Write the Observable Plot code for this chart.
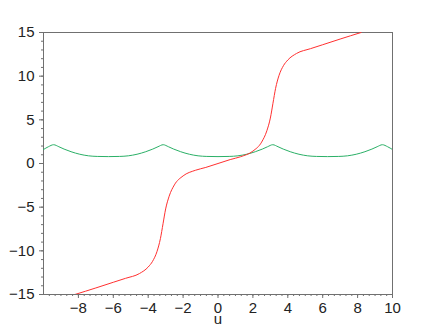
<!DOCTYPE html>
<html>
<head>
<meta charset="utf-8">
<script src="https://cdn.jsdelivr.net/npm/d3@7"></script>
<script src="https://cdn.jsdelivr.net/npm/@observablehq/plot@0.6"></script>
<style>
  html, body { margin: 0; padding: 0; background: #fff; }
  #chart { width: 435px; height: 327px; }
</style>
</head>
<body>
<div id="chart"></div>
<script>
// Red curve
const redU = [-8.2, -7.0, -6.0, -5.3, -4.5, -4.0, -3.75, -3.5, -3.3, -3.15, -3.0, -2.8, -2.5, -2.0, -1.3, -0.7, 0,
              0.7, 1.3, 2.0, 2.5, 2.8, 3.0, 3.15, 3.3, 3.5, 3.75, 4.0, 4.5, 5.3, 6.0, 7.0, 8.2];
const redY = [-15.0, -14.25, -13.6, -13.15, -12.6, -11.85, -11.2, -10.1, -8.6, -6.9, -5.2, -3.75, -2.45, -1.42, -0.78, -0.45, 0,
              0.45, 0.78, 1.42, 2.45, 3.75, 5.2, 6.9, 8.6, 10.1, 11.2, 11.85, 12.6, 13.15, 13.6, 14.25, 15.0];

// Green curve
const greenU = [-10.0, -9.72, -9.42, -9.12, -8.82, -8.42, -7.92, -7.42, -6.92, -6.28, -5.64, -5.14, -4.64, -4.14, -3.74, -3.44, -3.14,
                -2.84, -2.54, -2.14, -1.64, -1.14, -0.64, 0, 0.64, 1.14, 1.64, 2.14, 2.54, 2.84, 3.14,
                3.44, 3.74, 4.14, 4.64, 5.14, 5.64, 6.28, 6.92, 7.42, 7.92, 8.42, 8.82, 9.12, 9.42, 9.72, 10.0];
const greenY = [1.6, 1.92, 2.15, 1.92, 1.65, 1.35, 1.06, 0.88, 0.81, 0.79, 0.81, 0.88, 1.06, 1.35, 1.65, 1.92, 2.15,
                1.92, 1.65, 1.35, 1.06, 0.88, 0.81, 0.79, 0.81, 0.88, 1.06, 1.35, 1.65, 1.92, 2.15,
                1.92, 1.65, 1.35, 1.06, 0.88, 0.81, 0.79, 0.81, 0.88, 1.06, 1.35, 1.65, 1.92, 2.15, 1.92, 1.6];

// Tick values
const xMajor = [-8, -6, -4, -2, 0, 2, 4, 6, 8, 10];
const xMinor = d3.range(-30, 31).map(k => k / 3).filter(v => v > -10 && v < 10);
const yMajor = [-15, -10, -5, 0, 5, 10, 15];
const yMinor = d3.range(-15, 16);

const red = redU.map((u, i) => ({u, v: redY[i]}));
const green = greenU.map((u, i) => ({u, v: greenY[i]}));

const axisColor = "#707070";

const chart = Plot.plot({
  width: 435,
  height: 327,
  marginLeft: 43,
  marginRight: 43,
  marginTop: 32,
  marginBottom: 33,
  x: {domain: [-10, 10]},
  y: {domain: [-15, 15]},
  style: {fontFamily: "'Liberation Sans', Arial, sans-serif", fontSize: "15px", color: "#222", background: "#fff"},
  marks: [
    Plot.axisY({ticks: yMinor, tickSize: 2, tickFormat: () => "", label: null, stroke: axisColor}),
    Plot.axisY({ticks: yMajor, tickSize: 4, tickPadding: 5, label: null, stroke: axisColor, fontSize: 15}),
    Plot.axisX({ticks: xMinor, tickSize: 2, tickFormat: () => "", label: null, stroke: axisColor}),
    Plot.axisX({ticks: xMajor, tickSize: 4, tickPadding: 4, label: null, stroke: axisColor, fontSize: 15}),
    Plot.frame({stroke: axisColor}),
    Plot.line(green, {x: "u", y: "v", stroke: "#2bb067", strokeWidth: 1, curve: "monotone-x", clip: true}),
    Plot.line(red, {x: "u", y: "v", stroke: "#ff3030", strokeWidth: 1, curve: "monotone-x", clip: true}),
    Plot.text(["u"], {frameAnchor: "bottom", dy: 19, lineAnchor: "top", fontSize: 15, fill: "#222"})
  ]
});
document.getElementById("chart").append(chart);
</script>
</body>
</html>
